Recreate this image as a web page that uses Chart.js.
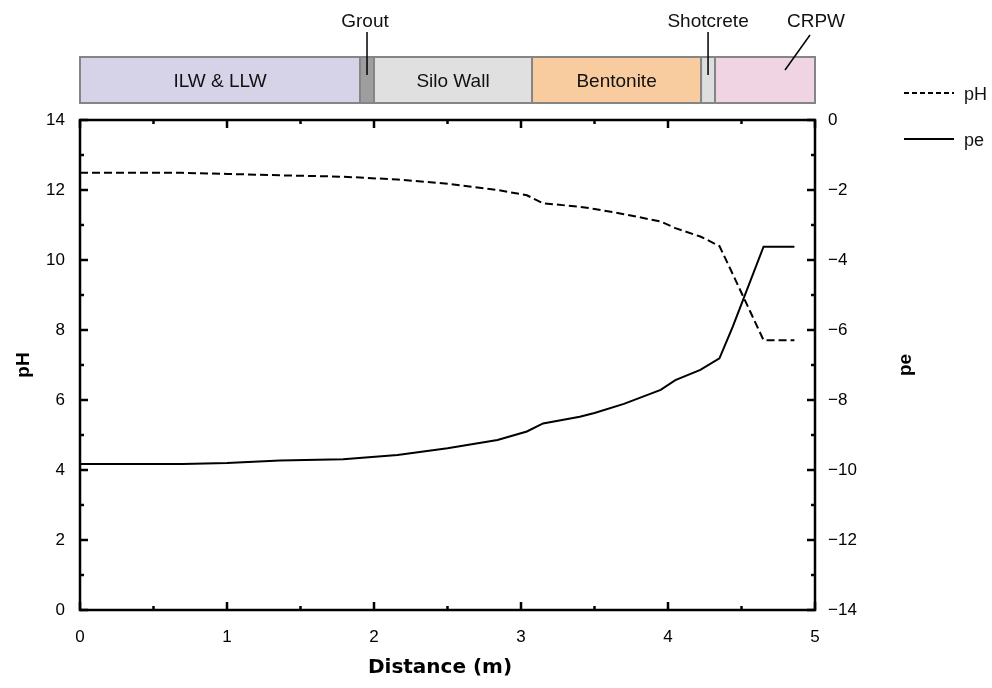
<!DOCTYPE html>
<html>
<head>
<meta charset="utf-8">
<script src="https://cdn.jsdelivr.net/npm/chart.js@4.4.0/dist/chart.umd.min.js"></script>
<style>
  html, body { margin: 0; padding: 0; background: #fff; }
  #wrap { width: 992px; height: 688px; position: relative; }
</style>
</head>
<body>
<div id="wrap"><canvas id="phChart"></canvas></div>
<script>
// distance along the profile (m)
var distance = [0, 0.7, 1.0, 1.36, 1.79, 2.16, 2.5, 2.84, 3.04, 3.15, 3.4, 3.5, 3.7, 3.95, 4.05, 4.22, 4.35, 4.44, 4.65, 4.86];
var phValues = [12.49, 12.49, 12.46, 12.42, 12.38, 12.3, 12.18, 12.0, 11.85, 11.62, 11.52, 11.46, 11.31, 11.1, 10.91, 10.67, 10.4, 9.6, 7.71, 7.71];
var peValues = [-9.83, -9.83, -9.8, -9.73, -9.69, -9.57, -9.38, -9.14, -8.9, -8.67, -8.48, -8.37, -8.11, -7.71, -7.43, -7.14, -6.81, -5.91, -3.62, -3.62];

// material layers shown in the strip above the plot
var layerNames = ["ILW & LLW", "Grout", "Silo Wall", "Bentonite", "Shotcrete", "CRPW"];
var layerStart = [0, 1.905, 2.0, 3.075, 4.225, 4.32];
var layerEnd = [1.905, 2.0, 3.075, 4.225, 4.32, 5.0];
var layerInside = [true, false, true, true, false, false];
var layerColors = ['#d6d3e8', '#9e9e9e', '#e0e0e0', '#f8cc9e', '#dedede', '#f0d4e4'];

var xTicks = [0, 1, 2, 3, 4, 5];
var phTicks = [0, 2, 4, 6, 8, 10, 12, 14];
var peTicks = [-14, -12, -10, -8, -6, -4, -2, 0];

var FONT = '"Liberation Sans", Arial, Helvetica, sans-serif';

function pts(ys) {
    return distance.map(function (d, i) { return { x: d, y: ys[i] }; });
}

var decorPlugin = {
    id: 'decor',
    afterDraw: function (chart) {
        var ctx = chart.ctx;
        var area = chart.chartArea;
        var xs = chart.scales.x, yl = chart.scales.yPH, yr = chart.scales.yPE;
        ctx.save();

        // frame
        ctx.strokeStyle = '#000';
        ctx.lineWidth = 2.5;
        ctx.strokeRect(area.left, area.top, area.right - area.left, area.bottom - area.top);

        // inward ticks
        ctx.beginPath();
        var v, p, len;
        for (v = 0; v <= 5.001; v += 0.5) {
            p = xs.getPixelForValue(v);
            len = (Math.abs(v - Math.round(v)) < 1e-6) ? 8 : 4;
            ctx.moveTo(p, area.bottom); ctx.lineTo(p, area.bottom - len);
            ctx.moveTo(p, area.top); ctx.lineTo(p, area.top + len);
        }
        for (v = 0; v <= 14; v += 1) {
            p = yl.getPixelForValue(v);
            len = (v % 2 === 0) ? 8 : 4;
            ctx.moveTo(area.left, p); ctx.lineTo(area.left + len, p);
        }
        for (v = -14; v <= 0; v += 1) {
            p = yr.getPixelForValue(v);
            len = (v % 2 === 0) ? 8 : 4;
            ctx.moveTo(area.right, p); ctx.lineTo(area.right - len, p);
        }
        ctx.stroke();

        // x title, sits a little left of centre in the original
        ctx.fillStyle = '#000';
        ctx.textAlign = 'center';
        ctx.textBaseline = 'middle';
        ctx.font = 'bold 20px "DejaVu Sans", ' + FONT;
        ctx.fillText('Distance (m)', 440, 668);

        // right axis title, reads bottom to top like the left one
        ctx.font = 'bold 19px ' + FONT;
        ctx.translate(906, (area.top + area.bottom) / 2);
        ctx.rotate(-Math.PI / 2);
        ctx.fillText('pe', 0, 0);
        ctx.setTransform(1, 0, 0, 1, 0, 0);

        // material strip
        var top = 57, bottom = 103;
        ctx.font = '19px ' + FONT;
        for (var i = 0; i < layerNames.length; i++) {
            var x0 = xs.getPixelForValue(layerStart[i]);
            var x1 = xs.getPixelForValue(layerEnd[i]);
            ctx.fillStyle = layerColors[i];
            ctx.fillRect(x0, top, x1 - x0, bottom - top);
            ctx.strokeStyle = '#858585';
            ctx.lineWidth = 2;
            ctx.strokeRect(x0, top, x1 - x0, bottom - top);
            if (layerInside[i]) {
                ctx.fillStyle = '#111';
                ctx.fillText(layerNames[i], (x0 + x1) / 2, 82);
            }
        }
        // callout labels
        ctx.fillStyle = '#111';
        ctx.strokeStyle = '#000';
        ctx.lineWidth = 1.5;
        var gx = xs.getPixelForValue((layerStart[1] + layerEnd[1]) / 2);
        ctx.fillText(layerNames[1], gx - 2, 22);
        ctx.beginPath(); ctx.moveTo(gx, 32); ctx.lineTo(gx, 75); ctx.stroke();
        var sx = xs.getPixelForValue((layerStart[4] + layerEnd[4]) / 2);
        ctx.fillText(layerNames[4], sx, 22);
        ctx.beginPath(); ctx.moveTo(sx, 32); ctx.lineTo(sx, 75); ctx.stroke();
        ctx.fillText(layerNames[5], 816, 22);
        ctx.beginPath(); ctx.moveTo(810, 35); ctx.lineTo(785, 70); ctx.stroke();

        // legend
        var ds = chart.data.datasets;
        var ly = [93, 139];
        ctx.font = '18px ' + FONT;
        ctx.textAlign = 'left';
        for (var k = 0; k < ds.length; k++) {
            ctx.strokeStyle = '#000';
            ctx.lineWidth = 2;
            ctx.setLineDash(k === 0 ? [5, 3] : []);
            ctx.beginPath(); ctx.moveTo(904, ly[k]); ctx.lineTo(954, ly[k]); ctx.stroke();
            ctx.setLineDash([]);
            ctx.fillText(ds[k].label, 964, ly[k] + 2);
        }
        ctx.restore();
    }
};

var phChart = new Chart(document.getElementById('phChart'), {
    type: 'line',
    data: {
        datasets: [{
                label: 'pH',
                data: pts(phValues),
                yAxisID: 'yPH',
                borderColor: '#000',
                borderWidth: 2,
                borderDash: [8, 4],
                pointRadius: 0,
                tension: 0
            }, {
                label: 'pe',
                data: pts(peValues),
                yAxisID: 'yPE',
                borderColor: '#000',
                borderWidth: 2,
                pointRadius: 0,
                tension: 0
            }]
    },
    options: {
        responsive: true,
        maintainAspectRatio: false,
        animation: false,
        layout: { padding: { top: 120, left: 0, right: 0, bottom: 0 } },
        plugins: {
            legend: { display: false },
            tooltip: { enabled: false }
        },
        scales: {
            x: {
                type: 'linear',
                min: 0,
                max: 5,
                afterBuildTicks: function (s) { s.ticks = xTicks.map(function (v) { return { value: v }; }); },
                afterFit: function (s) { s.height = 78; },
                grid: { display: false },
                border: { display: false },
                ticks: { color: '#000', padding: 9, maxRotation: 0, font: { family: FONT, size: 17 } }
            },
            yPH: {
                position: 'left',
                min: 0,
                max: 14,
                afterBuildTicks: function (s) { s.ticks = phTicks.map(function (v) { return { value: v }; }); },
                afterFit: function (s) { s.width = 80; },
                grid: { display: false },
                border: { display: false },
                ticks: { color: '#000', padding: 7, font: { family: FONT, size: 17 } },
                title: { display: true, text: 'pH', color: '#000', padding: { top: 12, bottom: 0 }, font: { family: FONT, size: 19, weight: 'bold' } }
            },
            yPE: {
                position: 'right',
                min: -14,
                max: 0,
                afterBuildTicks: function (s) { s.ticks = peTicks.map(function (v) { return { value: v }; }); },
                afterFit: function (s) { s.width = 177; },
                grid: { display: false },
                border: { display: false },
                ticks: {
                    color: '#000',
                    padding: 5,
                    font: { family: FONT, size: 17 },
                    callback: function (v) { return String(v).replace('-', '\u2212'); }
                }
            }
        }
    },
    plugins: [decorPlugin]
});
</script>
</body>
</html>
